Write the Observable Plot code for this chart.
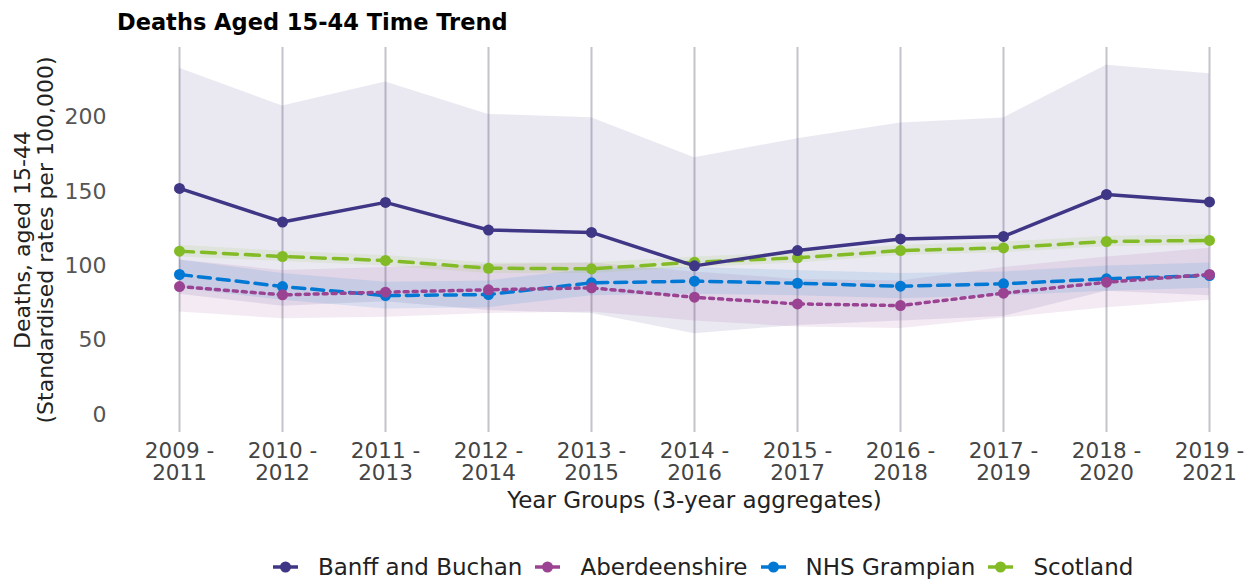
<!DOCTYPE html>
<html>
<head>
<meta charset="utf-8">
<script src="https://cdn.jsdelivr.net/npm/d3@7"></script>
<script src="https://cdn.jsdelivr.net/npm/@observablehq/plot@0.6"></script>
<style>
  body { margin: 0; background: #fff; font-family: "DejaVu Sans", sans-serif; }
  #wrap { position: relative; width: 1247px; height: 579px; overflow: hidden; }
  #chart { position: absolute; left: 0; top: 0; }
  #subtitle { position: absolute; left: 117px; top: 9px; font-weight: bold; font-size: 22.5px; line-height: 26px; color: #000; white-space: nowrap; }
  #legend { position: absolute; left: 273px; top: 554px; height: 26px; display: flex; align-items: center; font-size: 23px; color: #222; white-space: nowrap; }
  .item { display: flex; align-items: center; margin-right: 13px; }
  .item svg { margin-right: 20px; }
</style>
</head>
<body>
<div id="wrap">
  <div id="chart"></div>
  <div id="subtitle">Deaths Aged 15-44 Time Trend</div>
  <div id="legend"></div>
</div>
<script>
// ---- Data ----
const yearGroups = ["2009 - 2011", "2010 - 2012", "2011 - 2013", "2012 - 2014", "2013 - 2015", "2014 - 2016", "2015 - 2017", "2016 - 2018", "2017 - 2019", "2018 - 2020", "2019 - 2021"];

const seriesNames = ["Banff and Buchan", "Aberdeenshire", "NHS Grampian", "Scotland"];
const seriesColors = ["#3F3685", "#9B4393", "#0078D4", "#83BB26"];
const seriesDash = [null, "4,5", "12,7", "14,8"];

const banffValues = [152.2, 129.6, 142.8, 124.2, 122.6, 100.1, 110.4, 118.2, 119.9, 148.1, 143.1];
const banffLower  = [81, 73, 76, 70, 68, 54.5, 60, 63, 66, 83, 80];
const banffUpper  = [233, 207.6, 223.8, 202, 199.8, 172.8, 185.6, 196.2, 199.6, 235, 229.4];

const aberValues = [86.2, 80.6, 82.4, 84.0, 85.3, 79.0, 74.5, 73.4, 81.7, 89.1, 94.3];
const aberLower  = [69, 64.5, 65.5, 68, 69, 63, 59, 58, 65, 72, 77];
const aberUpper  = [104, 97, 99, 101, 102, 96, 91, 90, 99, 106, 112];

const grampValues = [94.3, 86.2, 80.1, 80.8, 88.7, 89.8, 88.4, 86.4, 88.0, 91.4, 93.6];
const grampLower  = [85, 77, 71, 72, 80, 81, 80, 78, 80, 83, 85];
const grampUpper  = [104, 95, 89, 90, 98, 99, 97, 95, 96, 100, 102];

const scotValues = [110.0, 106.4, 103.7, 98.5, 98.1, 102.6, 105.5, 110.4, 112.2, 116.5, 117.2];
const scotLower  = [106, 103, 100, 95, 95, 99, 102, 107, 109, 113, 114];
const scotUpper  = [114, 110, 107, 102, 102, 106, 109, 114, 116, 120, 121];

const yTicks = [0, 50, 100, 150, 200];

// ---- Build table ----
const valuesBy = [banffValues, aberValues, grampValues, scotValues];
const lowerBy = [banffLower, aberLower, grampLower, scotLower];
const upperBy = [banffUpper, aberUpper, grampUpper, scotUpper];
const series = seriesNames.map((name, k) => ({
  name, color: seriesColors[k], dash: seriesDash[k],
  rows: yearGroups.map((g, i) => ({series: name, group: g, value: valuesBy[k][i], lower: lowerBy[k][i], upper: upperBy[k][i]}))
}));

const drawOrder = [...series].reverse();

const plot = Plot.plot({
  width: 1247,
  height: 579,
  marginLeft: 178,
  marginRight: 37,
  marginTop: 47,
  marginBottom: 147,
  x: {type: "point", domain: yearGroups, padding: 0, label: null},
  y: {domain: [-12, 247], label: null},
  style: {fontFamily: "DejaVu Sans, sans-serif", fontSize: "22px", background: "transparent"},
  marks: [
    Plot.ruleX(yearGroups, {stroke: "#c4c4cc", strokeWidth: 2}),
    ...series.map(s => Plot.areaY(s.rows, {x: "group", y1: "lower", y2: "upper", fill: s.color, fillOpacity: 0.11})),
    ...drawOrder.flatMap(s => [
      Plot.line(s.rows, {x: "group", y: "value", stroke: s.color, strokeWidth: 3.5, strokeDasharray: s.dash}),
      Plot.dot(s.rows, {x: "group", y: "value", fill: s.color, r: 5.5})
    ]),
    Plot.axisY({ticks: yTicks, tickSize: 0, tickPadding: 72, fontSize: 22, color: "#555", label: null}),
    Plot.axisX({tickSize: 0, tickPadding: 9, fontSize: 21.5, color: "#444", lineHeight: 1.05, label: null,
      tickFormat: d => d.replace(" - ", " -\n")}),
    Plot.text(["Deaths, aged 15-44\n(Standardised rates per 100,000)"], {
      frameAnchor: "left", rotate: -90, dx: -144, fontSize: 22, fill: "#222", lineHeight: 1.05, textAnchor: "middle", lineAnchor: "middle"
    }),
    Plot.text(["Year Groups (3-year aggregates)"], {
      frameAnchor: "bottom", dy: 68, fontSize: 23, fill: "#222", textAnchor: "middle", lineAnchor: "middle"
    })
  ]
});
document.getElementById("chart").appendChild(plot);

// ---- Legend ----
const legend = document.getElementById("legend");
series.forEach(s => {
  const item = document.createElement("div");
  item.className = "item";
  item.innerHTML = `<svg width="25" height="14"><line x1="0" y1="7" x2="25" y2="7" stroke="${s.color}" stroke-width="3.5"/><circle cx="12.5" cy="7" r="5.5" fill="${s.color}"/></svg><span>${s.name}</span>`;
  legend.appendChild(item);
});
</script>
</body>
</html>
